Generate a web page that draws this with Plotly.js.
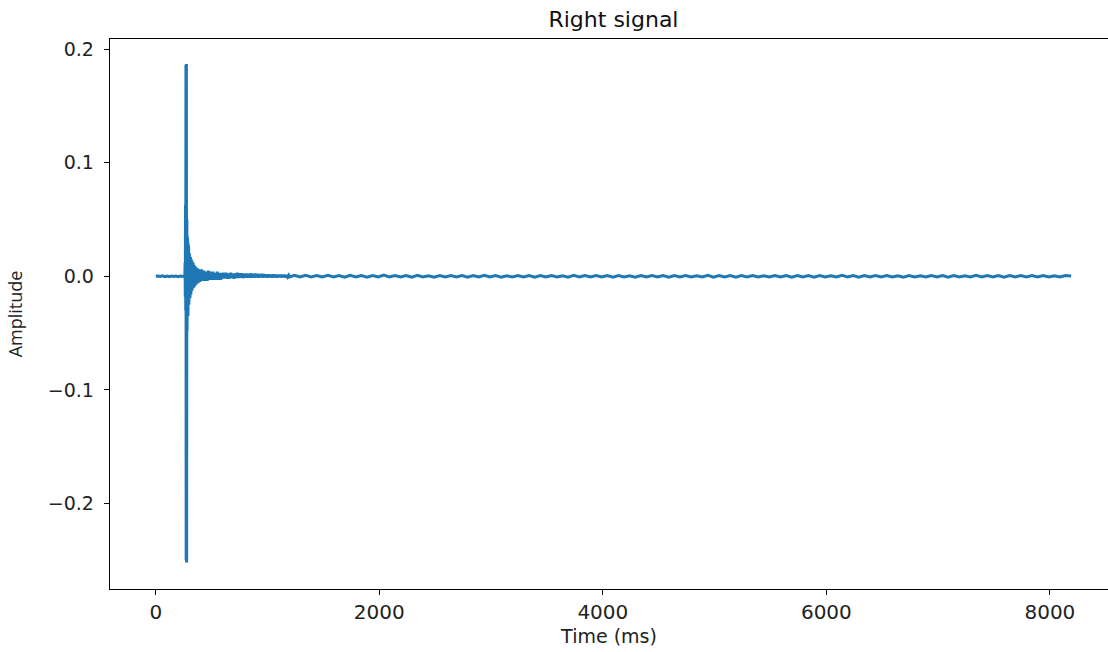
<!DOCTYPE html>
<html>
<head>
<meta charset="utf-8">
<script src="https://cdn.plot.ly/plotly-3.0.1.min.js"></script>
<style>html,body{margin:0;padding:0;background:#fff;}#chart{width:1108px;height:652px;}</style>
</head>
<body>
<div id="chart"></div>
<script>
// ---- data (time in ms, amplitude) ----
// segment A: quiet lead-in, t = 0..260 every 20 ms
var preStart = 0, preStep = 20;
var preAmp = [0, 0.0003, -0.0002, 0.0004, -0.0003, 0.0002, -0.0004, 0.0003, -0.0002, 0.0003, -0.0003, 0.0002, -0.0002, 0.0004];

// segment B: impulse, t = 262..300 every 2 ms
var hitStart = 262, hitStep = 2;
var hitAmp = [0.012, -0.018, 0.063, -0.03, 0.186, -0.25, 0.187, -0.252, 0.05, -0.048,
              0.035, -0.04, 0.03, -0.035, 0.028, -0.03, 0.025, -0.025, 0.02, -0.022];

// segment C: fast decay, t = 302..398 every 4 ms
var decStart = 302, decStep = 4;
var decAmp = [0.02, -0.019, 0.017, -0.016, 0.015, -0.013, 0.013, -0.011, 0.012, -0.010,
              0.010, -0.009, 0.009, -0.008, 0.008, -0.007, 0.007, -0.006, 0.007, -0.006,
              0.006, -0.005, 0.006, -0.005, 0.005];

// segment D: ring-down, t = 410..1200 every 10 ms
var ringStart = 410, ringStep = 10;
var ringAmp = [0.005, -0.004, 0.005, -0.004, 0.004, -0.004, 0.005, -0.003, 0.004, -0.003,
               0.004, -0.003, 0.003, -0.003, 0.004, -0.003, 0.003, -0.003, 0.003, -0.002,
               0.003, -0.002, 0.003, -0.002, 0.0025, -0.002, 0.003, -0.0015, 0.0025, -0.002,
               0.0025, -0.0015, 0.003, -0.0015, 0.0025, -0.0012, 0.0025, -0.0015, 0.0022, -0.0012,
               0.0024, -0.0012, 0.0022, -0.001, 0.0025, -0.0012, 0.002, -0.001, 0.0022, -0.0008,
               0.002, -0.001, 0.0018, -0.0008, 0.002, -0.001, 0.0018, -0.0008, 0.0015, -0.001,
               0.0016, -0.0008, 0.0014, -0.001, 0.0015, -0.0007, 0.0013, -0.0009, 0.0012, -0.0007,
               0.0012, -0.0008, 0.0011, -0.0007, 0.0011, -0.0008, 0.001, -0.0007, 0.001, -0.0006];

// segment E: residual noise, t = 1240..8190 every 50 ms
var tailStart = 1240, tailStep = 50;
var tailAmp = [
  0.0008,-0.0006,0.0009,-0.0005,0.0007,-0.0006,0.0008,-0.0005,0.0006,-0.0007,
  0.0009,-0.0005,0.0006,-0.0007,0.0007,-0.0006,0.001,-0.0005,0.0006,-0.0006,
  0.0006,-0.0007,0.0008,-0.0006,0.0005,-0.0008,0.0007,-0.0005,0.0007,-0.0006,
  0.0006,-0.0007,0.0006,-0.0005,0.0009,-0.0006,0.0006,-0.0007,0.0005,-0.0006,
  0.0007,-0.0005,0.0006,-0.0008,0.0006,-0.0006,0.0007,-0.0006,0.0005,-0.0007,
  0.0008,-0.0006,0.0006,-0.0006,0.0007,-0.0005,0.0006,-0.0007,0.0006,-0.0006,
  0.0005,-0.0007,0.0007,-0.0006,0.0006,-0.0005,0.0006,-0.0008,0.0007,-0.0006,
  0.0006,-0.0006,0.0005,-0.0006,0.0008,-0.0007,0.0006,-0.0005,0.0006,-0.0007,
  0.0006,-0.0006,0.0007,-0.0006,0.0005,-0.0006,0.0007,-0.0005,0.0006,-0.0007,
  0.0007,-0.0005,0.0006,-0.0007,0.0006,-0.0006,0.0005,-0.0006,0.0008,-0.0006,
  0.0006,-0.0007,0.0006,-0.0005,0.0006,-0.0006,0.0007,-0.0006,0.0005,-0.0007,
  0.0007,-0.0006,0.0005,-0.0006,0.0006,-0.0005,0.0006,-0.0007,0.0007,-0.0006,
  0.0005,-0.0006,0.0008,-0.0006,0.0006,-0.0005,0.0006,-0.0007,0.0006,-0.0006,
  0.0006,-0.0005,0.0006,-0.0006,0.0007,-0.0006,0.0005,-0.0006,0.0006,0.0002];

var xTickVals = [0, 2000, 4000, 6000, 8000];
var xTickText = ['0', '2000', '4000', '6000', '8000'];
var yTickVals = [-0.2, -0.1, 0.0, 0.1, 0.2];
var yTickText = ['\u22120.2', '\u22120.1', '0.0', '0.1', '0.2'];

// ---- assemble the sampled series ----
var t = [], amp = [];
function addSeg(start, step, vals) {
  for (var i = 0; i < vals.length; i++) { t.push(start + i * step); amp.push(vals[i]); }
}
addSeg(preStart, preStep, preAmp);
addSeg(hitStart, hitStep, hitAmp);
addSeg(decStart, decStep, decAmp);
addSeg(ringStart, ringStep, ringAmp);
addSeg(tailStart, tailStep, tailAmp);

var font = 'DejaVu Sans, sans-serif';
var trace = {
  x: t, y: amp, type: 'scatter', mode: 'lines',
  line: {color: '#1f77b4', width: 3},
  hoverinfo: 'skip'
};

var layout = {
  width: 1108, height: 652,
  margin: {l: 110, r: 0, t: 39, b: 63, pad: 0},
  paper_bgcolor: '#ffffff', plot_bgcolor: '#ffffff',
  showlegend: false,
  font: {family: font, color: '#000000', size: 19},
  title: {
    text: 'Right signal',
    font: {family: font, size: 22, color: '#111111'},
    xref: 'paper', x: 0.5045, xanchor: 'center',
    yref: 'container', y: 0.97, yanchor: 'middle'
  },
  xaxis: {
    range: [-409.6, 8520],
    tickmode: 'array', tickvals: xTickVals, ticktext: xTickText,
    ticks: 'outside', ticklen: 5, tickwidth: 1, tickcolor: '#000000',
    showline: true, linecolor: '#000000', linewidth: 1.3, mirror: true,
    showgrid: false, zeroline: false,
    tickfont: {family: font, size: 20, color: '#222222'},
    title: {text: 'Time (ms)', font: {family: font, size: 19, color: '#222222'}, standoff: 6},
    automargin: false
  },
  yaxis: {
    range: [-0.2754, 0.209],
    tickmode: 'array', tickvals: yTickVals, ticktext: yTickText,
    ticks: 'outside', ticklen: 5, tickwidth: 1, tickcolor: '#000000',
    showline: true, linecolor: '#000000', linewidth: 1.3, mirror: false,
    showgrid: false, zeroline: false,
    tickfont: {family: font, size: 19, color: '#222222'},
    ticklabelstandoff: 6,
    title: {text: 'Amplitude', font: {family: 'Open Sans, sans-serif', size: 18, color: '#222222'}, standoff: 20},
    automargin: false
  }
};

Plotly.newPlot('chart', [trace], layout, {staticPlot: true, displayModeBar: false});
</script>
</body>
</html>
